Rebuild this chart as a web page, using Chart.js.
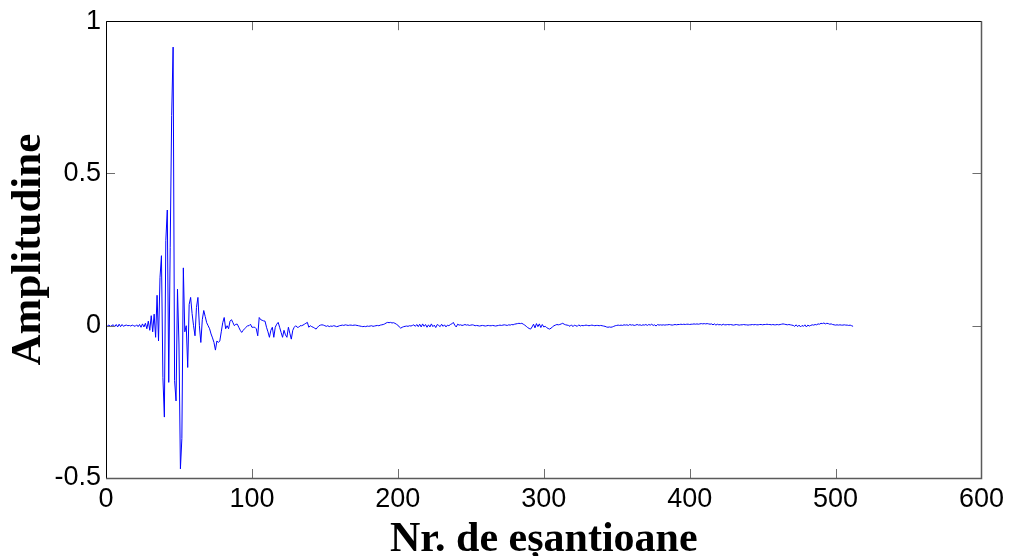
<!DOCTYPE html>
<html>
<head>
<meta charset="utf-8">
<script src="https://cdn.jsdelivr.net/npm/chart.js@4.4.1/dist/chart.umd.min.js"></script>
<style>
html,body{margin:0;padding:0;background:#fff;}
#wrap{width:1009px;height:556px;position:relative;}
</style>
</head>
<body>
<div id="wrap"><canvas id="c" width="1009" height="556"></canvas></div>
<script>
const xTicks = [0, 100, 200, 300, 400, 500, 600];
const xTickLabels = ['0', '100', '200', '300', '400', '500', '600'];
const yTicks = [-0.5, 0, 0.5, 1];
const yTickLabels = ['-0.5', '0', '0.5', '1'];
const xTitle = 'Nr. de eșantioane';
const yTitle = 'Amplitudine';

// amplitude of samples 1..512
const amplitude = [
  0.000, 0.002, -0.002, 0.001, 0.003, -0.003, 0.004, -0.004, 0.005, -0.003,
  0.004, -0.002, 0.001, 0.002, 0.000, 0.001, -0.001, 0.002, 0.000, -0.002,
  0.003, -0.003, 0.004, -0.005, 0.006, -0.004, 0.008, -0.010, 0.015, -0.015,
  0.033, -0.020, 0.038, -0.038, 0.100, -0.050, 0.158, 0.230, -0.170, -0.300,
  0.280, 0.380, -0.186, 0.256, 0.690, 0.915, -0.180, -0.247, 0.120, -0.060,
  -0.470, -0.370, 0.190, -0.020, 0.000, -0.137, 0.070, 0.093, 0.040, 0.000,
  -0.033, 0.060, 0.093, 0.000, -0.055, 0.020, 0.050, 0.030, 0.010, 0.000,
  -0.010, -0.027, -0.040, -0.055, -0.080, -0.050, -0.055, -0.050, -0.020, 0.010,
  0.027, -0.010, 0.000, -0.010, 0.015, 0.020, 0.010, 0.000, 0.005, 0.005,
  -0.005, -0.015, -0.022, -0.015, -0.010, -0.005, 0.000, 0.000, 0.005, -0.005,
  -0.005, -0.005, -0.010, -0.033, 0.027, 0.020, 0.018, 0.016, 0.015, -0.005,
  -0.020, -0.038, -0.015, -0.005, -0.038, -0.005, 0.005, 0.011, -0.005, -0.022,
  -0.038, -0.015, -0.030, -0.038, -0.005, -0.025, -0.044, -0.015, -0.005, 0.000,
  -0.005, -0.005, 0.000, 0.000, 0.002, 0.005, 0.008, 0.011, -0.005, 0.000,
  -0.003, -0.005, -0.008, -0.011, -0.005, 0.000, 0.002, 0.003, 0.002, 0.000,
  -0.002, 0.000, -0.003, -0.001, -0.002, 0.000, -0.001, -0.003, -0.002, 0.000,
  0.001, 0.002, 0.001, 0.003, 0.002, 0.001, 0.002, 0.002, 0.001, 0.002,
  0.002, 0.001, 0.000, -0.001, -0.002, -0.003, -0.002, -0.003, -0.001, -0.002,
  -0.001, 0.000, -0.002, -0.001, 0.000, 0.001, 0.000, 0.002, 0.003, 0.004,
  0.006, 0.009, 0.011, 0.010, 0.011, 0.009, 0.010, 0.008, 0.005, 0.002,
  -0.004, -0.008, -0.005, -0.003, -0.002, -0.001, -0.002, 0.000, -0.001, 0.001,
  0.003, -0.002, 0.004, -0.003, 0.005, -0.004, 0.006, -0.002, 0.004, -0.005,
  0.003, -0.004, 0.006, -0.003, 0.002, -0.006, 0.004, 0.001, -0.003, 0.005,
  -0.002, 0.003, -0.004, 0.002, 0.000, 0.004, 0.006, 0.011, 0.002, -0.004,
  0.005, 0.002, 0.003, 0.001, 0.002, 0.004, 0.002, 0.003, 0.001, 0.002,
  0.003, 0.002, 0.000, 0.001, 0.000, -0.001, 0.000, 0.001, 0.000, -0.001,
  0.000, 0.001, 0.000, 0.000, 0.001, 0.000, -0.001, 0.000, 0.001, 0.002,
  0.001, 0.002, 0.003, 0.002, 0.001, 0.003, 0.002, 0.004, 0.003, 0.005,
  0.006, 0.007, 0.008, 0.007, 0.008, 0.005, 0.002, -0.002, -0.006, -0.009,
  -0.011, -0.004, 0.005, -0.007, 0.007, -0.003, 0.006, -0.006, 0.004, -0.004,
  -0.002, -0.006, -0.009, -0.011, -0.008, -0.004, 0.000, 0.002, 0.004, 0.003,
  0.004, 0.006, 0.008, 0.005, 0.003, 0.002, 0.001, -0.002, 0.003, -0.003,
  0.002, 0.000, -0.002, 0.003, -0.001, 0.001, 0.000, 0.001, 0.002, 0.001,
  0.000, 0.001, 0.002, 0.001, 0.000, 0.001, 0.001, 0.000, 0.001, 0.000,
  -0.001, -0.002, -0.004, -0.005, -0.004, -0.005, -0.004, -0.002, 0.000, 0.001,
  0.002, 0.001, 0.002, 0.001, 0.003, 0.002, 0.003, 0.001, 0.004, 0.002,
  0.003, 0.001, 0.002, 0.004, 0.002, 0.003, 0.001, 0.003, 0.002, 0.004,
  0.001, 0.004, 0.002, 0.005, 0.001, 0.003, -0.001, 0.004, 0.002, 0.003,
  0.002, 0.003, 0.002, 0.003, 0.003, 0.004, 0.003, 0.002, 0.003, 0.004,
  0.003, 0.004, 0.004, 0.005, 0.004, 0.005, 0.004, 0.005, 0.005, 0.004,
  0.005, 0.005, 0.006, 0.005, 0.006, 0.005, 0.006, 0.007, 0.006, 0.007,
  0.006, 0.007, 0.006, 0.005, 0.006, 0.003, 0.006, 0.002, 0.005, 0.003,
  0.004, 0.002, 0.005, 0.003, 0.003, 0.004, 0.003, 0.004, 0.003, 0.002,
  0.003, 0.004, 0.003, 0.002, 0.003, 0.003, 0.004, 0.003, 0.003, 0.002,
  0.003, 0.003, 0.004, 0.003, 0.004, 0.003, 0.003, 0.004, 0.004, 0.003,
  0.004, 0.004, 0.005, 0.004, 0.004, 0.003, 0.004, 0.003, 0.003, 0.004,
  0.003, 0.004, 0.005, 0.006, 0.005, 0.004, 0.003, 0.004, 0.003, 0.002,
  0.001, -0.002, 0.003, -0.003, 0.002, -0.004, 0.001, -0.002, 0.003, -0.004,
  0.002, -0.001, 0.001, 0.003, 0.002, 0.004, 0.003, 0.006, 0.005, 0.008,
  0.007, 0.009, 0.006, 0.008, 0.007, 0.005, 0.006, 0.004, 0.003, 0.002,
  0.003, 0.002, 0.003, 0.002, 0.002, 0.003, 0.002, 0.002, 0.001, 0.002,
  0.000, -0.002
];

const points = amplitude.map((v, i) => ({ x: i + 1, y: v }));

const boxPlugin = {
  id: 'matlabBox',
  afterDraw(chart) {
    const { ctx, chartArea: a, scales: { x, y } } = chart;
    const L = 9;
    ctx.save();
    ctx.lineWidth = 1;
    ctx.strokeStyle = '#6e6e6e';
    ctx.beginPath();
    x.ticks.forEach(t => {
      const px = Math.round(x.getPixelForValue(t.value)) + 0.5;
      ctx.moveTo(px, a.bottom); ctx.lineTo(px, a.bottom - L);
      ctx.moveTo(px, a.top); ctx.lineTo(px, a.top + L);
    });
    y.ticks.forEach(t => {
      const py = Math.round(y.getPixelForValue(t.value)) + 0.5;
      ctx.moveTo(a.left, py); ctx.lineTo(a.left + L, py);
      ctx.moveTo(a.right, py); ctx.lineTo(a.right - L, py);
    });
    ctx.stroke();
    ctx.strokeStyle = '#000';
    ctx.beginPath();
    ctx.moveTo(Math.round(a.left) + 0.5, a.bottom);
    ctx.lineTo(Math.round(a.left) + 0.5, Math.round(a.top) + 0.5);
    ctx.lineTo(a.right, Math.round(a.top) + 0.5);
    ctx.stroke();
    ctx.strokeStyle = '#5a5a5a';
    ctx.lineWidth = 1.5;
    ctx.beginPath();
    ctx.moveTo(a.left, Math.round(a.bottom) + 0.5);
    ctx.lineTo(Math.round(a.right) + 0.5, Math.round(a.bottom) + 0.5);
    ctx.lineTo(Math.round(a.right) + 0.5, a.top);
    ctx.stroke();
    ctx.restore();
  }
};

new Chart(document.getElementById('c'), {
  type: 'line',
  data: {
    datasets: [{
      data: points,
      borderColor: '#0000ff',
      borderWidth: 1,
      pointRadius: 0,
      tension: 0,
      fill: false
    }]
  },
  options: {
    responsive: false,
    animation: false,
    devicePixelRatio: 1,
    layout: { padding: { top: 20, right: 25, left: 0, bottom: 0 } },
    plugins: { legend: { display: false }, tooltip: { enabled: false } },
    scales: {
      x: {
        type: 'linear',
        min: 0, max: 600,
        afterBuildTicks: s => { s.ticks = xTicks.map(v => ({ value: v })); },
        afterFit: s => { s.height = 78; },
        grid: { display: false, drawTicks: false },
        border: { display: false },
        ticks: {
          padding: 5, color: '#000', maxRotation: 0, autoSkip: false,
          font: { family: 'Liberation Sans', size: 27 },
          callback: (v, i) => xTickLabels[i]
        },
        title: {
          display: true, text: xTitle, color: '#000', padding: 0,
          font: { family: 'Liberation Serif', size: 42, weight: 'bold', lineHeight: 0.76 }
        }
      },
      y: {
        type: 'linear',
        min: -0.5, max: 1,
        afterBuildTicks: s => { s.ticks = yTicks.map(v => ({ value: v })); },
        afterFit: s => { s.width = 106; },
        grid: { display: false, drawTicks: false },
        border: { display: false },
        ticks: {
          padding: 5, color: '#000', autoSkip: false,
          font: { family: 'Liberation Sans', size: 27 },
          callback: (v, i) => yTickLabels[i]
        },
        title: {
          display: true, text: yTitle, color: '#000', padding: { top: 7, bottom: 0 },
          font: { family: 'Liberation Serif', size: 43, weight: 'bold', lineHeight: 1 }
        }
      }
    }
  },
  plugins: [boxPlugin]
});
</script>
</body>
</html>
